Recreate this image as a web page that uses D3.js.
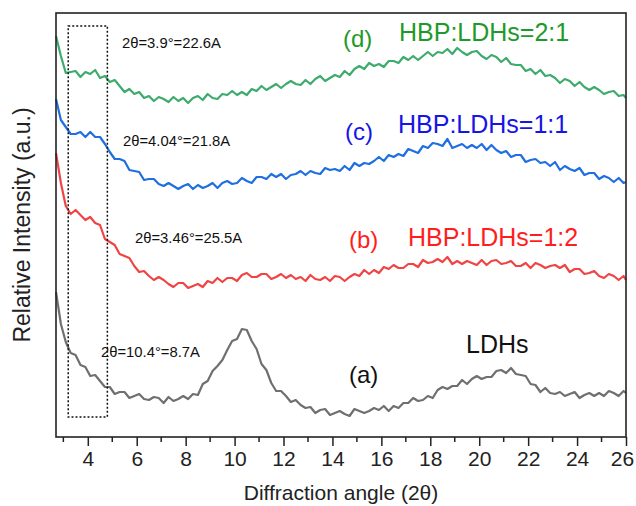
<!DOCTYPE html>
<html>
<head>
<meta charset="utf-8">
<script src="https://cdn.jsdelivr.net/npm/d3@7"></script>
<style>
body{margin:0;background:#fff}
svg text{font-family:"Liberation Sans",Arial,sans-serif}
</style>
</head>
<body>
<div id="chart"></div>
<script>

// scan grid, 2theta in degrees (0.2 step)
const angles = [...d3.range(2.7, 25.95, 0.2), 26]

// relative intensity (a.u.)
const ldhs = [145,113,95,84,82,72,70,61,62,56,50,50,43,45,45,39,41,43,38,37,40,39,34,40,36,38,41,38,43,42,53,56,66,71,77,87,96,98,108,107,96,88,73,67,54,46,46,41,35,37,32,29,30,24,27,28,22,24,26,23,21,28,26,24,26,29,27,31,26,31,29,34,34,39,36,37,41,39,47,50,48,51,51,57,53,58,61,58,60,60,66,67,64,69,63,62,61,53,52,45,49,44,43,45,41,43,45,39,42,44,41,44,41,46,44,41,46,44]
const ratio12 = [284,254,231,223,227,222,217,220,214,212,198,195,192,183,181,179,171,165,166,161,157,160,157,153,150,154,154,149,151,153,150,156,154,159,155,159,159,156,162,164,160,160,163,163,158,160,163,159,162,158,160,156,162,158,157,160,156,161,160,156,160,163,161,167,163,167,164,170,168,172,169,169,173,173,170,177,174,175,178,175,180,173,176,173,176,174,172,177,172,176,177,173,174,176,171,171,174,169,174,172,169,171,172,169,172,165,168,168,163,164,166,161,159,163,161,157,161,157]
const ratio11 = [338,317,310,303,303,305,300,305,300,300,293,285,278,278,276,267,266,265,257,258,258,253,251,254,251,248,251,253,248,252,249,251,254,249,254,256,253,254,259,256,254,260,260,258,263,260,263,258,262,263,266,262,266,264,263,269,267,268,266,271,267,274,271,274,273,276,280,276,282,280,283,281,288,286,284,291,289,294,293,291,298,289,291,293,289,292,289,293,287,292,287,284,286,280,282,282,275,277,278,274,275,271,275,267,271,268,266,269,262,264,264,258,261,259,255,259,254,255]
const ratio21 = [401,381,364,365,366,360,365,363,367,359,361,355,357,351,345,348,343,345,339,341,336,340,338,335,340,336,339,334,339,341,337,343,339,338,343,342,346,342,345,342,348,346,351,347,350,353,349,353,356,353,352,357,353,358,361,356,359,362,360,366,362,368,371,368,374,371,373,370,376,376,374,380,377,381,377,381,385,381,385,384,388,383,389,385,382,385,386,381,378,382,380,375,379,373,372,372,366,368,363,367,361,362,359,354,358,356,351,355,350,347,350,347,343,345,346,341,342,339]

const xTicks = [4,6,8,10,12,14,16,18,20,22,24,26]
const xMinor = [3,5,7,9,11,13,15,17,19,21,23,25]

// dotted box round the low-angle reflections
const boxAngles = [3.2, 4.8]
const boxLevels = [20, 411]

const series = [
 {name:"a", values:ldhs, stroke:"#6f6f6f"},
 {name:"b", values:ratio12, stroke:"#f04444"},
 {name:"c", values:ratio11, stroke:"#1f6fe0"},
 {name:"d", values:ratio21, stroke:"#3cab6c"}
]

const notes = [
 {text:"2θ=3.9°=22.6A", at:[122,48], size:14.8, fill:"#111"},
 {text:"2θ=4.04°=21.8A", at:[123,146], size:14.8, fill:"#111"},
 {text:"2θ=3.46°=25.5A", at:[135,243], size:14.8, fill:"#111"},
 {text:"2θ=10.4°=8.7A", at:[101,357], size:14.8, fill:"#111"},
 {text:"(d)", at:[343,47], size:24, fill:"#1e9a2a"},
 {text:"HBP:LDHs=2:1", at:[399,41], size:25, fill:"#1e9a2a"},
 {text:"(c)", at:[345,140], size:24, fill:"#1515e6"},
 {text:"HBP:LDHs=1:1", at:[398,133], size:25, fill:"#1515e6"},
 {text:"(b)", at:[349,248], size:24, fill:"#ff1e1e"},
 {text:"HBP:LDHs=1:2", at:[408,246], size:25, fill:"#ff1e1e"},
 {text:"LDHs", at:[466,353], size:25, fill:"#111"},
 {text:"(a)", at:[349,383], size:24, fill:"#111"}
]

const width = 636
const height = 506
const margin = {top:13,right:10,bottom:69,left:56}

const svg = d3.select("#chart")
.append("svg")
.attr("width",width)
.attr("height",height)

const x = d3.scaleLinear()
.domain([2.7,26])
.range([margin.left,width-margin.right])

const y = d3.scaleLinear()
.domain([0,424])
.range([height-margin.bottom,margin.top])


// CURVES

const line = d3.line()
.x((d,i)=>x(angles[i]))
.y(d=>y(d))

svg.selectAll(".curve")
.data(series)
.enter()
.append("path")
.attr("class","curve")
.attr("fill","none")
.attr("stroke",d=>d.stroke)
.attr("stroke-width",2.2)
.attr("stroke-linejoin","round")
.attr("d",d=>line(d.values))


// DOTTED BOX

svg.append("rect")
.attr("x",x(boxAngles[0]))
.attr("y",y(boxLevels[1]))
.attr("width",x(boxAngles[1])-x(boxAngles[0]))
.attr("height",y(boxLevels[0])-y(boxLevels[1]))
.attr("fill","none")
.attr("stroke","#111")
.attr("stroke-width",1.5)
.attr("stroke-dasharray","2,2")


// FRAME + AXES

svg.append("rect")
.attr("x",margin.left)
.attr("y",margin.top)
.attr("width",width-margin.right-margin.left)
.attr("height",height-margin.bottom-margin.top)
.attr("fill","none")
.attr("stroke","#222")
.attr("stroke-width",1.6)

const xAxis = svg.append("g")
.attr("transform",`translate(0,${height-margin.bottom})`)
.call(d3.axisBottom(x).tickValues(xTicks).tickSize(9).tickSizeOuter(0).tickPadding(5))

xAxis.select(".domain").remove()
xAxis.selectAll("line").attr("stroke","#222").attr("stroke-width",1.5)
xAxis.selectAll("text")
.attr("font-size",21)
.attr("fill","#222")
.style("font-family","'Liberation Sans',Arial,sans-serif")

// last label sits just inside the page edge
xAxis.selectAll("text").filter(d=>d===26).attr("dx",-4)

svg.append("g")
.attr("transform",`translate(0,${height-margin.bottom})`)
.selectAll("line")
.data(xMinor)
.enter()
.append("line")
.attr("x1",d=>x(d))
.attr("x2",d=>x(d))
.attr("y1",0)
.attr("y2",5)
.attr("stroke","#222")
.attr("stroke-width",1.5)

svg.append("text")
.attr("x",(margin.left+width-margin.right)/2)
.attr("y",500)
.attr("text-anchor","middle")
.attr("font-size",21)
.attr("fill","#222")
.text("Diffraction angle (2θ)")

svg.append("text")
.attr("transform",`translate(30,${(margin.top+height-margin.bottom)/2}) rotate(-90)`)
.attr("text-anchor","middle")
.attr("font-size",23)
.attr("fill","#222")
.text("Relative Intensity (a.u.)")


// LABELS

svg.selectAll(".note")
.data(notes)
.enter()
.append("text")
.attr("class","note")
.attr("x",d=>d.at[0])
.attr("y",d=>d.at[1])
.attr("font-size",d=>d.size)
.attr("fill",d=>d.fill)
.text(d=>d.text)

</script>
</body>
</html>
